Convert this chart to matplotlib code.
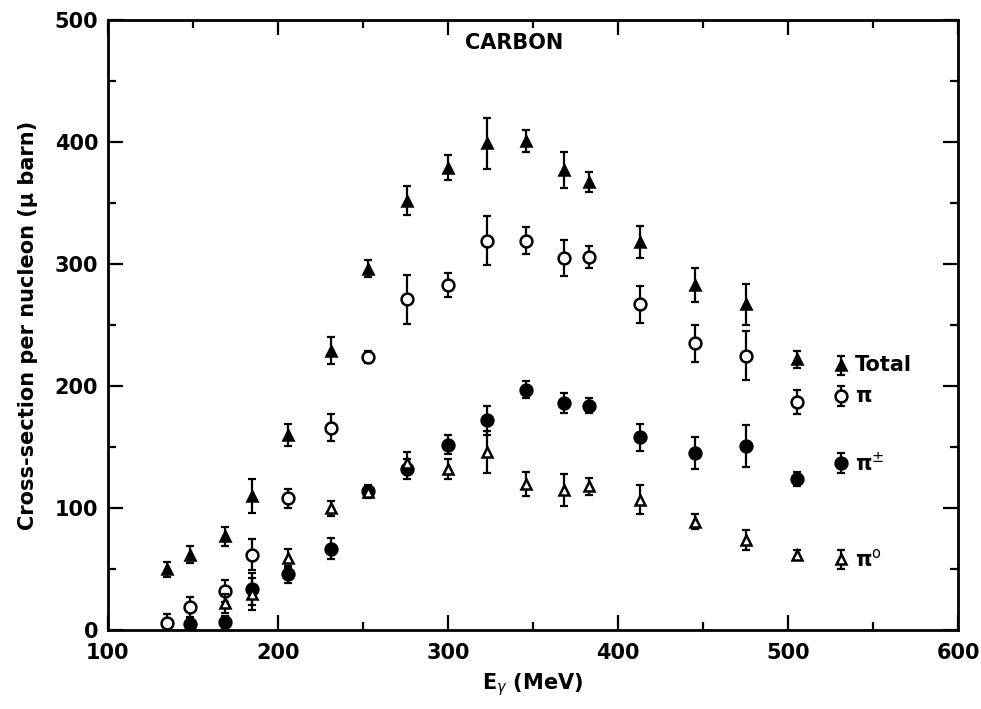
import numpy as np
import matplotlib.pyplot as plt

plt.rcParams['font.family'] = ['DejaVu Sans']
plt.rcParams['mathtext.fontset'] = 'dejavusans'

# photon energy (MeV)
energy = [135, 148, 169, 185, 206, 231, 253, 276, 300, 323, 346, 368, 383, 413, 445, 475, 505]

# total cross-section
total = [50, 62, 77, 110, 160, 229, 296, 352, 379, 399, 401, 377, 367, 318, 283, 267, 222]
total_err = [6, 7, 8, 14, 9, 11, 7, 12, 10, 21, 9, 15, 8, 13, 14, 17, 7]

# pi
pi_all = [6, 19, 32, 62, 108, 166, 224, 271, 283, 319, 319, 305, 306, 267, 235, 225, 187]
pi_all_err = [7, 8, 9, 13, 8, 11, 5, 20, 10, 20, 11, 15, 9, 15, 15, 20, 10]

# pi charged (no point at 135)
e_charged = energy[1:]
pi_charged = [5, 7, 34, 46, 67, 114, 132, 152, 172, 197, 186, 184, 158, 145, 151, 124]
pi_charged_err = [4, 5, 13, 7, 9, 5, 8, 8, 12, 7, 8, 6, 11, 13, 17, 6]

# pi zero (from 169 MeV)
e_neutral = energy[2:]
pi_zero = [22, 30, 59, 100, 113, 137, 132, 146, 120, 115, 118, 107, 89, 74, 62]
pi_zero_err = [8, 13, 8, 6, 5, 9, 8, 17, 10, 13, 7, 12, 6, 8, 4]

# key placed inside the frame
key_x = 531
key_y = [217, 192, 137, 58]
key_labels = ['Total', '\u03c0', '\u03c0$^{\\pm}$', '\u03c0$^{\\mathrm{o}}$']

series = [
    (energy, total, total_err, dict(marker='^', mfc='black', ms=7.5)),
    (energy, pi_all, pi_all_err, dict(marker='o', mfc='white', ms=8.5)),
    (e_charged, pi_charged, pi_charged_err, dict(marker='o', mfc='black', ms=8.5)),
    (e_neutral, pi_zero, pi_zero_err, dict(marker='^', mfc='white', ms=7.5)),
]

fig = plt.figure(figsize=(9.81, 7.09), dpi=100)
ax = fig.add_axes([0.110, 0.111, 0.867, 0.861])

for (x, y, err, style), ky, lab in zip(series, key_y, key_labels):
    ax.errorbar(x, y, yerr=err, fmt='none', ecolor='black', elinewidth=1.6,
                capsize=3, capthick=1.6)
    ax.plot(x, y, ls='none', color='black', mec='black', mew=1.8, **style)
    # key marker + label
    ax.errorbar([key_x], [ky], yerr=[8], fmt='none', ecolor='black',
                elinewidth=1.6, capsize=3, capthick=1.6)
    ax.plot([key_x], [ky], ls='none', color='black', mec='black', mew=1.8, **style)
    ax.text(key_x + 8, ky, lab, fontsize=15, fontweight='bold', va='center', ha='left')

ax.text(339, 481, 'CARBON', fontsize=15, fontweight='bold', ha='center', va='center')

ax.set_xlim(100, 600)
ax.set_ylim(0, 500)
ax.set_xticks(np.arange(100, 601, 100))
ax.set_xticks(np.arange(150, 600, 50), minor=True)
ax.set_yticks(np.arange(0, 501, 100))
ax.set_yticks(np.arange(50, 500, 50), minor=True)
ax.tick_params(which='both', direction='in', top=True, right=True, width=1.6)
ax.tick_params(which='major', length=11, labelsize=15)
ax.tick_params(axis='x', which='major', pad=9)
ax.tick_params(axis='y', which='major', pad=7)
ax.tick_params(which='minor', length=6)
for lab in ax.get_xticklabels() + ax.get_yticklabels():
    lab.set_fontweight('bold')
for sp in ax.spines.values():
    sp.set_linewidth(2)

ax.set_xlabel(r'E$_\gamma$ (MeV)', fontsize=15, fontweight='bold', labelpad=6)
ax.set_ylabel('Cross-section per nucleon (\u03bc barn)', fontsize=15,
              fontweight='bold', labelpad=12)

fig.savefig('out.png', dpi=100)
